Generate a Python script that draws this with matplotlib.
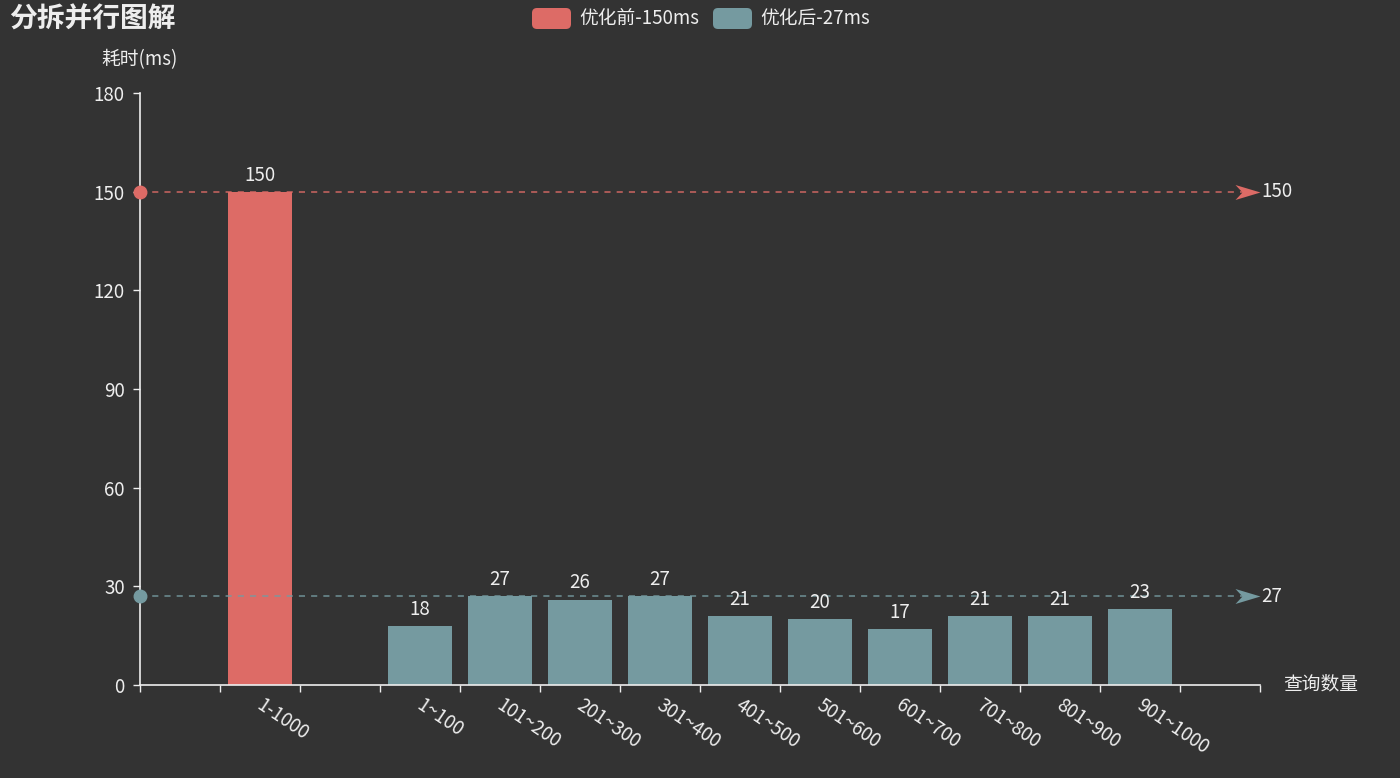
import numpy as np
import matplotlib
matplotlib.use("Agg")
from matplotlib import pyplot as plt
from matplotlib.path import Path
from matplotlib.patches import FancyBboxPatch
from matplotlib.transforms import IdentityTransform

plt.rcParams['font.family'] = ['Noto Sans CJK SC', 'DejaVu Sans']

# Datos
# ========================================
categorias = ["", "1-1000", "", "1~100", "101~200", "201~300", "301~400", "401~500",
              "501~600", "601~700", "701~800", "801~900", "901~1000", ""]
antes = [np.nan, 150] + [np.nan] * 12
despues = [np.nan, np.nan, np.nan, 18, 27, 26, 27, 21, 20, 17, 21, 21, 23, np.nan]
linea_antes = 150
linea_despues = 27
y_ticks = [0, 30, 60, 90, 120, 150, 180]

nombre_antes = "优化前-150ms"
nombre_despues = "优化后-27ms"
titulo = "分拆并行图解"

# Estilo
bg = "#333333"
fg = "#eeeeee"
c_antes = "#dd6b66"
c_despues = "#759aa0"
fs = 13.5

fig = plt.figure(figsize=(14, 7.78), dpi=100, facecolor=bg)
ax = fig.add_axes([0.1, 0.1195, 0.8, 0.761])
ax.set_facecolor(bg)

x = np.arange(len(categorias))
ax.bar(x, antes, width=0.8, color=c_antes, zorder=2)
ax.bar(x, despues, width=0.8, color=c_despues, zorder=2)

# Etiquetas encima de las barras
for serie in (antes, despues):
    for xi, v in zip(x, serie):
        if not np.isnan(v):
            ax.annotate(f"{v:g}", (xi, v), xytext=(0, 8), textcoords="offset points",
                        ha="center", va="baseline", color=fg, fontsize=fs, zorder=5)

# Líneas de referencia (markLine)
flecha = Path([(0, 0), (-1, 0.3), (-0.72, 0), (-1, -0.3), (0, 0)],
              [Path.MOVETO, Path.LINETO, Path.LINETO, Path.LINETO, Path.CLOSEPOLY])
x0, x1 = -0.5, len(categorias) - 0.5
for val, c in ((linea_antes, c_antes), (linea_despues, c_despues)):
    ax.plot([x0, x1 - 0.1], [val, val], ls=(0, (4, 4)), lw=1.1, color=c, alpha=0.9,
            zorder=3, clip_on=False)
    ax.plot([x0], [val], marker="o", ms=9, color=c, mec=c, zorder=4, clip_on=False)
    ax.plot([x1], [val], marker=flecha, ms=36, color=c, mec=c, mew=0, zorder=4,
            clip_on=False)
    ax.annotate(f"{val}", (x1, val), xytext=(1, 0), textcoords="offset points",
                ha="left", va="center", color=fg, fontsize=fs)

# Ejes
ax.set_xlim(x0, x1)
ax.set_ylim(0, 180)
ax.set_yticks(y_ticks)
ax.set_yticklabels([str(t) for t in y_ticks], fontsize=fs, color=fg)
ax.set_xticks(np.arange(len(categorias) + 1) - 0.5)
ax.set_xticklabels([])
ax.set_xticks(x + 0.05, minor=True)
ax.set_xticklabels(categorias, minor=True, rotation=-34, ha="left", va="top",
                   rotation_mode="anchor", fontsize=fs, color=fg)
ax.tick_params(axis="x", which="major", length=5, width=1, color=fg, direction="out")
ax.tick_params(axis="x", which="minor", length=0, pad=7)
ax.tick_params(axis="y", length=5, width=1, color=fg, pad=6)
for s in ("top", "right"):
    ax.spines[s].set_visible(False)
for s in ("left", "bottom"):
    ax.spines[s].set_color(fg)
    ax.spines[s].set_linewidth(1.2)

# Títulos y nombres de ejes
fig.text(9 / 1400, 1 - 20 / 778, titulo, ha="left", va="center", fontsize=20,
         fontweight="bold", color=fg)
fig.text(140 / 1400, 1 - 60 / 778, "耗时(ms)", ha="center", va="center",
         fontsize=fs, color=fg)
fig.text(1283 / 1400, 1 - 684 / 778, "查询数量", ha="left", va="center",
         fontsize=fs, color=fg)

# Leyenda
H = 778
for xr, c, nombre in ((532, c_antes, nombre_antes), (713, c_despues, nombre_despues)):
    rect = FancyBboxPatch((xr, H - 29), 39, 21, boxstyle="round,pad=0,rounding_size=5",
                          facecolor=c, edgecolor="none", transform=IdentityTransform())
    fig.patches.append(rect)
    fig.text((xr + 47) / 1400, 1 - 18 / 778, nombre, ha="left", va="center",
             fontsize=fs, color=fg)

fig.savefig("out.png", dpi=100, facecolor=bg)
